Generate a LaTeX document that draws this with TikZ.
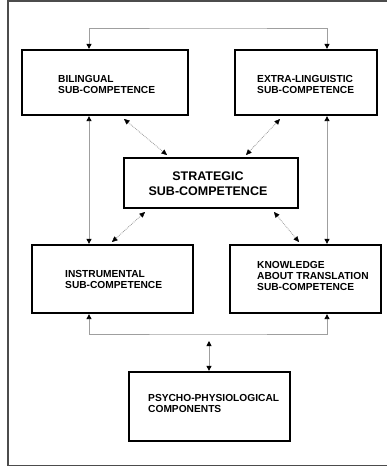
\documentclass[tikz,border=0pt]{standalone}
\usepackage{fontspec}
\setmainfont{Liberation Sans}
\usetikzlibrary{arrows.meta}
\begin{document}
\begin{tikzpicture}[x=1pt,y=-1pt,
  box/.style={draw=black,line width=2.3pt,inner sep=0pt},
  lbl/.style={inner sep=0pt,anchor=west,align=left,font=\bfseries\fontsize{10.2}{11}\selectfont},
  conn/.style={draw=gray!75,line width=0.9pt,{Triangle[length=5pt,width=5pt,color=black]}-{Triangle[length=5pt,width=5pt,color=black]}},
  diag/.style={draw=gray!80,line width=0.8pt,densely dotted,{Triangle[length=5.5pt,width=5pt,color=black,line width=0.4pt]}-{Triangle[length=5.5pt,width=5pt,color=black,line width=0.4pt]}}]
\useasboundingbox (0,0) rectangle (387,467);
% frame
\draw[gray!60!black,line width=1.5pt] (395,1) -- (8,1) -- (8,465.5) -- (395,465.5);
% boxes
\node[box,minimum width=166pt,minimum height=65pt] (bil) at (105,82.5) {};
\node[box,minimum width=142pt,minimum height=65pt] (ext) at (306,82.5) {};
\node[box,minimum width=174pt,minimum height=50pt] (str) at (211,183) {};
\node[box,minimum width=161pt,minimum height=68pt] (ins) at (112.5,279) {};
\node[box,minimum width=151pt,minimum height=68pt] (kno) at (305.5,279) {};
\node[box,minimum width=161pt,minimum height=69pt] (psy) at (209.5,406.5) {};
% texts
\node[lbl] (bilt) at (58,84) {BILINGUAL\\SUB-COMPETENCE};
\node[lbl] (extt) at (257,84) {EXTRA-LINGUISTIC\\SUB-COMPETENCE};
\node[inner sep=0pt,align=center,font=\bfseries\fontsize{12.5}{15}\selectfont] (strt) at (208,184) {STRATEGIC\\SUB-COMPETENCE};
\node[lbl] (inst) at (65,279) {INSTRUMENTAL\\SUB-COMPETENCE};
\node[lbl] (knot) at (257,276) {KNOWLEDGE\\ABOUT TRANSLATION\\SUB-COMPETENCE};
\node[lbl] (psyt) at (148,403.5) {PSYCHO-PHYSIOLOGICAL\\COMPONENTS};
% coordinates
\coordinate (xl) at (89,0);
\coordinate (xr) at (327,0);
\coordinate (top) at (208,28);
\coordinate (bot) at (208,334);
\coordinate (mid) at (209,341);
\coordinate (d1a) at (124,119);
\coordinate (d1b) at (167,155);
\coordinate (d2a) at (280,119);
\coordinate (d2b) at (246,155);
\coordinate (d3a) at (145,212);
\coordinate (d3b) at (112,242);
\coordinate (d4a) at (274,212);
\coordinate (d4b) at (299,242);
% connectors
\draw[conn] (bil.north -| xl) |- (top) -| (ext.north -| xr);
\draw[conn] (bil.south -| xl) -- (ins.north -| xl);
\draw[conn] (ext.south -| xr) -- (kno.north -| xr);
\draw[conn] (ins.south -| xl) |- (bot) -| (kno.south -| xr);
\draw[conn] (mid) -- (psy.north -| mid);
\draw[diag] (d1a) -- (d1b);
\draw[diag] (d2a) -- (d2b);
\draw[diag] (d3a) -- (d3b);
\draw[diag] (d4a) -- (d4b);
\end{tikzpicture}
\end{document}
